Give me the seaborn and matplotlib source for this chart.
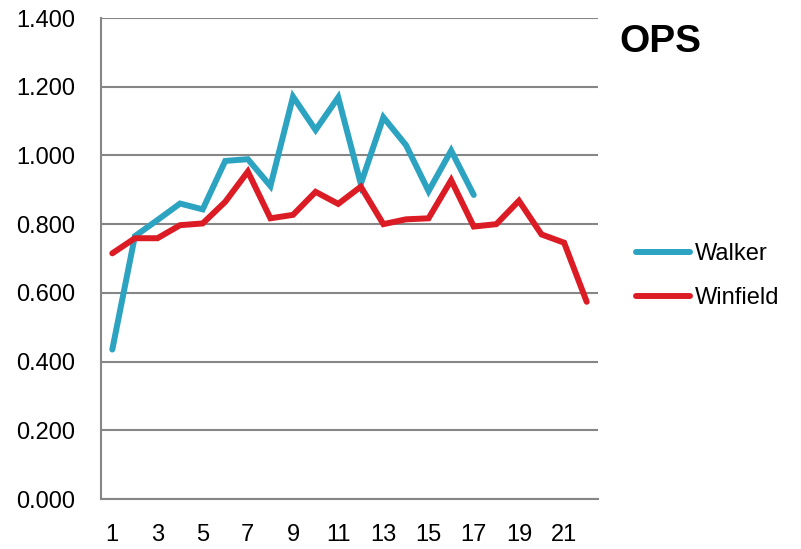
import numpy as np
import pandas as pd
import seaborn as sns
import matplotlib.pyplot as plt
from matplotlib.ticker import FixedLocator, FuncFormatter

# Daten
spiele = list(range(1, 23))
walker = [0.435, 0.765, 0.812, 0.860, 0.843, 0.984, 0.989, 0.911, 1.171, 1.074,
          1.169, 0.917, 1.111, 1.030, 0.896, 1.014, 0.885]
winfield = [0.715, 0.759, 0.759, 0.797, 0.802, 0.865, 0.953, 0.817, 0.827, 0.894,
            0.859, 0.909, 0.800, 0.814, 0.817, 0.928, 0.793, 0.800, 0.868, 0.770,
            0.746, 0.574]
spieler = ["Walker", "Winfield"]
farben = ["#2CA3C1", "#DC1C25"]
y_ticks = [0.0, 0.2, 0.4, 0.6, 0.8, 1.0, 1.2, 1.4]
x_labels = [1, 3, 5, 7, 9, 11, 13, 15, 17, 19, 21]

# Long-Format fuer seaborn
df = pd.concat([
    pd.DataFrame({"spiel": spiele[:len(walker)], "ops": walker, "spieler": "Walker"}),
    pd.DataFrame({"spiel": spiele, "ops": winfield, "spieler": "Winfield"})])

sns.set_style("white")
plt.rcParams["font.family"] = ["Liberation Sans", "DejaVu Sans"]
plt.rcParams["text.color"] = "black"

fig = plt.figure(figsize=(8.01, 5.49), dpi=100)
ax = fig.add_axes([101 / 801, 1 - 499 / 549, 497 / 801, 481 / 549])

sns.lineplot(data=df, x="spiel", y="ops", hue="spieler", hue_order=spieler,
             palette=farben, linewidth=4.3, ax=ax, legend=False,
             solid_capstyle="round", solid_joinstyle="miter")

grau = "#868686"
ax.set_xlim(0.5, 22.5)
ax.set_ylim(0, 1.4)
ax.yaxis.set_major_locator(FixedLocator(y_ticks))
ax.yaxis.set_major_formatter(FuncFormatter(lambda v, p: f"{v:.3f}"))
ax.grid(axis="y", color=grau, linewidth=1.5)
ax.set_axisbelow(True)

# Kategorie-Achse: Striche zwischen den Kategorien, Beschriftung in der Mitte
ax.xaxis.set_major_locator(FixedLocator(np.arange(0.5, 23, 1)))
ax.xaxis.set_major_formatter(FuncFormatter(lambda v, p: ""))
ax.xaxis.set_minor_locator(FixedLocator(x_labels))
ax.xaxis.set_minor_formatter(FuncFormatter(lambda v, p: f"{int(v)}"))
ax.tick_params(axis="x", which="major", length=5, width=1.3, color=grau, direction="out")
ax.tick_params(axis="x", which="minor", length=0, pad=18, labelsize=17, labelcolor="black")
ax.tick_params(axis="y", length=6, width=1.3, color=grau, direction="out",
               pad=12.5, labelsize=17, labelcolor="black")

for s in ["top", "right"]:
    ax.spines[s].set_visible(False)
for s in ["left", "bottom"]:
    ax.spines[s].set_color(grau)
    ax.spines[s].set_linewidth(1.5)

ax.set_xlabel("")
ax.set_ylabel("")

# Legende und Titel rechts
handles = [plt.Line2D([], [], color=c, linewidth=4.3, solid_capstyle="round") for c in farben]
fig.legend(handles, spieler, loc="center left", bbox_to_anchor=(636 / 801, 1 - 276 / 549),
           frameon=False, fontsize=17, handlelength=2.3, handletextpad=0.2,
           labelspacing=0.95, borderpad=0, borderaxespad=0, labelcolor="black")
fig.text(619 / 801, 1 - 52 / 549, "OPS", fontsize=28, fontweight="bold",
         va="baseline", color="black")

fig.savefig("out.png", dpi=100)
